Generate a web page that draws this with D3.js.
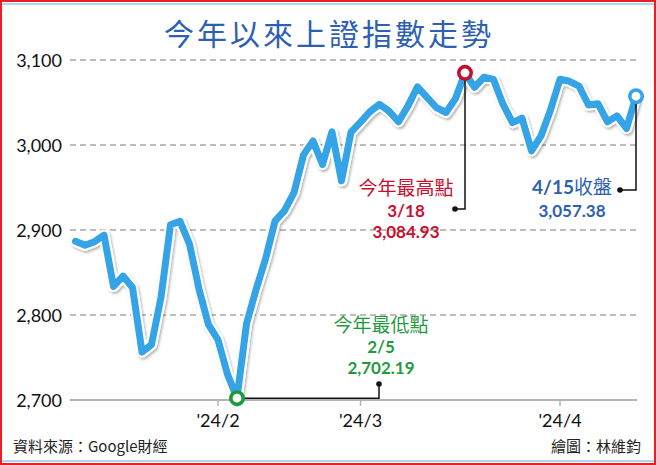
<!DOCTYPE html>
<html>
<head>
<meta charset="utf-8">
<script src="https://cdn.jsdelivr.net/npm/d3@7"></script>
<style>
body { margin:0; padding:0; background:#fff; }
svg { display:block; }
</style>
</head>
<body>
<div id="chart"></div>
<script>
// trading days shown on the x axis (Jan 11 - Apr 15, 2024)
var dates = ["1/11","1/12","1/15","1/16","1/17","1/18","1/19","1/22","1/23","1/24","1/25","1/26","1/29","1/30","1/31",
             "2/1","2/2","2/5","2/6","2/7","2/8","2/19","2/20","2/21","2/22","2/23","2/26","2/27","2/28","2/29",
             "3/1","3/4","3/5","3/6","3/7","3/8","3/11","3/12","3/13","3/14","3/15","3/18","3/19","3/20","3/21","3/22","3/25","3/26","3/27","3/28","3/29",
             "4/1","4/2","4/3","4/8","4/9","4/10","4/11","4/12","4/15"];
// 上證指數 close
var closes = [2886.65,2881.98,2886.29,2893.99,2833.62,2845.78,2832.28,2756.34,2765.10,2820.77,2906.11,2910.22,2883.36,2830.53,2788.55,
              2770.74,2730.15,2702.19,2789.49,2829.70,2865.90,2910.54,2922.73,2944.02,2988.36,3004.88,2977.02,3015.48,2957.85,3015.17,
              3027.02,3039.31,3047.79,3039.93,3027.40,3046.02,3068.46,3055.94,3043.83,3038.23,3054.64,3084.93,3067.93,3079.69,3077.11,3048.03,3026.31,3031.48,2993.14,3010.66,3041.17,
              3077.38,3074.96,3069.30,3047.05,3048.54,3027.34,3034.25,3019.47,3057.38];

var yTicks = [2700, 2800, 2900, 3000, 3100];
var xTicks = ["2/1", "3/1", "4/1"];
var xTickLabels = ["'24/2", "'24/3", "'24/4"];

var W = 656, H = 465;
var numFont = "Lato, 'Noto Sans', 'Noto Sans CJK TC', sans-serif";
var cjkFont = "'Noto Sans CJK TC', 'Noto Sans', sans-serif";

var svg = d3.select("#chart").append("svg")
    .attr("width", W)
    .attr("height", H);

// soft shadow for the line
var defs = svg.append("defs");
var f = defs.append("filter").attr("id", "sh").attr("x", "-10%").attr("y", "-10%").attr("width", "120%").attr("height", "120%");
f.append("feDropShadow").attr("dx", 1.5).attr("dy", 2).attr("stdDeviation", 1.2)
    .attr("flood-color", "#000").attr("flood-opacity", 0.28);

// frame
svg.append("rect").attr("x", 0).attr("y", 0).attr("width", W).attr("height", H).attr("fill", "#fff");
svg.append("line").attr("x1", 2).attr("x2", W - 2).attr("y1", 4).attr("y2", 4)
    .attr("stroke", "#a9d7ef").attr("stroke-width", 2);
svg.append("line").attr("x1", 2).attr("x2", W - 2).attr("y1", 461).attr("y2", 461)
    .attr("stroke", "#a9d7ef").attr("stroke-width", 2);
svg.append("rect").attr("x", 1).attr("y", 1).attr("width", W - 2).attr("height", H - 2)
    .attr("fill", "none").attr("stroke", "#ee1c25").attr("stroke-width", 2);

// title
svg.append("text")
    .attr("x", 329).attr("y", 45)
    .attr("text-anchor", "middle")
    .attr("font-family", cjkFont)
    .attr("font-size", 30)
    .attr("letter-spacing", 3)
    .attr("fill", "#2d5fb2")
    .text("今年以來上證指數走勢");

var x = d3.scalePoint().domain(dates).range([75.5, 636]);
var y = d3.scaleLinear().domain([2700, 3100]).range([400, 60]);

// grid
svg.append("g").selectAll("line").data(yTicks.filter(function(d){ return d > 2700; })).enter().append("line")
    .attr("x1", 70).attr("x2", 637)
    .attr("y1", function(d){ return y(d); })
    .attr("y2", function(d){ return y(d); })
    .attr("stroke", "#a8a8a8")
    .attr("stroke-width", 1.5)
    .attr("stroke-dasharray", "6,4");

// base line
svg.append("line").attr("x1", 70).attr("x2", 637).attr("y1", y(2700)).attr("y2", y(2700))
    .attr("stroke", "#b4b4b4").attr("stroke-width", 2);

// y labels
svg.append("g").selectAll("text").data(yTicks).enter().append("text")
    .attr("x", 62)
    .attr("y", function(d){ return y(d) + 6.5; })
    .attr("text-anchor", "end")
    .attr("font-family", numFont)
    .attr("font-size", 18)
    .attr("fill", "#111")
    .text(function(d){ return d3.format(",")(d); });

// x ticks
var xt = svg.append("g").selectAll("g").data(xTicks).enter().append("g")
    .attr("transform", function(d){ return "translate(" + x(d) + ",0)"; });
xt.append("line").attr("y1", 401).attr("y2", 406).attr("stroke", "#b4b4b4").attr("stroke-width", 1.5);
xt.append("text")
    .attr("y", 427)
    .attr("text-anchor", "middle")
    .attr("font-family", numFont)
    .attr("font-size", 18)
    .attr("fill", "#111")
    .text(function(d, i){ return xTickLabels[i]; });

// line
var line = d3.line()
    .x(function(d, i){ return x(dates[i]); })
    .y(function(d){ return y(d); });

var lg = svg.append("g").attr("filter", "url(#sh)");
lg.append("path").datum(closes).attr("d", line)
    .attr("fill", "none").attr("stroke", "#fff").attr("stroke-width", 11)
    .attr("stroke-linejoin", "round").attr("stroke-linecap", "round");
lg.append("path").datum(closes).attr("d", line)
    .attr("fill", "none").attr("stroke", "#36a4e6").attr("stroke-width", 7)
    .attr("stroke-linejoin", "round").attr("stroke-linecap", "round");

// annotations
var hiI = closes.indexOf(d3.max(closes));
var loI = closes.indexOf(d3.min(closes));
var lastI = closes.length - 1;

function leader(pts)
{
    svg.append("path")
        .attr("d", d3.line()(pts))
        .attr("fill", "none")
        .attr("stroke", "#111")
        .attr("stroke-width", 1.5);
    var e = pts[pts.length - 1];
    svg.append("circle").attr("cx", e[0]).attr("cy", e[1]).attr("r", 2.8).attr("fill", "#111");
}

function marker(i, color)
{
    svg.append("circle")
        .attr("cx", x(dates[i])).attr("cy", y(closes[i]))
        .attr("r", 6.2)
        .attr("fill", "#fff")
        .attr("stroke", color)
        .attr("stroke-width", 3.6);
}

function label(cx, rows, color)
{
    rows.forEach(function(r){
        svg.append("text")
            .attr("x", cx).attr("y", r.y)
            .attr("text-anchor", "middle")
            .attr("font-family", r.cjk ? cjkFont : numFont)
            .attr("font-size", r.size)
            .attr("font-weight", r.cjk ? 400 : 700)
            .attr("fill", color)
            .text(r.t);
    });
}

// high
var hx = x(dates[hiI]), hy = y(closes[hiI]);
leader([[hx, hy + 6], [hx, 209], [455, 209]]);
marker(hiI, "#c4102c");
label(406, [
    {t: "今年最高點", y: 195, size: 19, cjk: true},
    {t: dates[hiI], y: 217, size: 17},
    {t: d3.format(",.2f")(closes[hiI]), y: 238, size: 17}
], "#c8102e");

// low
var lx = x(dates[loI]), ly = y(closes[loI]);
leader([[lx + 6, ly], [379, ly], [379, 384]]);
marker(loI, "#1b9a3a");
label(381, [
    {t: "今年最低點", y: 332, size: 19, cjk: true},
    {t: dates[loI], y: 353, size: 17},
    {t: d3.format(",.2f")(closes[loI]), y: 374, size: 17}
], "#1f9b3e");

// last close
var cx = x(dates[lastI]), cy = y(closes[lastI]);
leader([[cx, cy + 6], [cx, 190], [620, 190]]);
marker(lastI, "#36a4e6");
svg.append("text")
    .attr("x", 572).attr("y", 194)
    .attr("text-anchor", "middle")
    .attr("fill", "#2d5fb2")
    .attr("font-size", 19)
    .call(function(t){
        t.append("tspan").attr("font-family", numFont).attr("font-weight", 700).text(dates[lastI]);
        t.append("tspan").attr("font-family", cjkFont).text("收盤");
    });
label(572, [
    {t: d3.format(",.2f")(closes[lastI]), y: 217, size: 17}
], "#2d5fb2");

// footer
svg.append("text").attr("x", 13).attr("y", 452)
    .attr("font-family", cjkFont).attr("font-size", 15).attr("fill", "#222")
    .text("資料來源：Google財經");
svg.append("text").attr("x", 641).attr("y", 452).attr("text-anchor", "end")
    .attr("font-family", cjkFont).attr("font-size", 15).attr("fill", "#222")
    .text("繪圖：林維鈞");
</script>
</body>
</html>
